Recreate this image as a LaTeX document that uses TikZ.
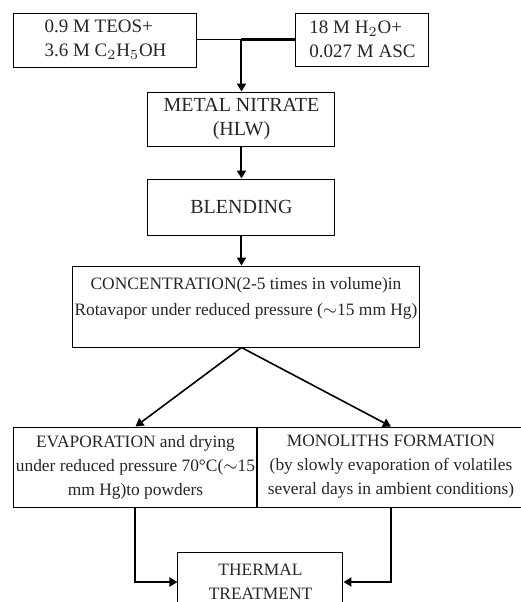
\documentclass[tikz,border=0pt]{standalone}
\usepackage{fontspec}
\setmainfont{Liberation Serif}
\usetikzlibrary{arrows.meta,positioning,calc}

\begin{document}
\begin{tikzpicture}[
  x=0.5pt, y=-0.5pt,
  box/.style={rectangle, draw, line width=0.5pt, inner sep=1pt, align=center, font=\fontsize{8.7}{12}\selectfont, text=black!85},
  bigtext/.style={font=\fontsize{10}{12}\selectfont},
  arr/.style={-{Triangle[length=4pt,width=4.5pt]}, line width=1pt},
  every node/.style={inner sep=2pt}
]
\useasboundingbox (0,0) rectangle (521,602);

% Top: reagents
\node[box, bigtext, font=\fontsize{9.5}{12}\selectfont, align=left, minimum width=91.5pt, minimum height=27pt] (teos) at (105.5,40) {0.9 M TEOS+\\3.6 M C$_2$H$_5$OH};
\node[box, font=\fontsize{9.5}{12}\selectfont, align=left, minimum width=66.5pt, minimum height=26.5pt] (water) at (362.5,39.5) {18 M H$_2$O+\\0.027 M ASC};
\coordinate (join) at (241.5,39.5);
\draw[line width=0.8pt] (teos.east |- join) -- (join);
\draw[line width=1.4pt] (water.west) -- (join);

% Main line
\node[box, bigtext, minimum width=93.5pt, minimum height=27pt] (nitrate) at (241.5,119) {METAL NITRATE\\(HLW)};
\node[box, bigtext, minimum width=93.5pt, minimum height=28pt] (blend) at (241.5,207) {BLENDING};
\node[box, minimum width=172pt, minimum height=40.5pt, font=\fontsize{8.7}{13}\selectfont] (conc) at (246,306.5) {CONCENTRATION(2-5 times in volume)in\\Rotavapor under reduced pressure ($\sim$15 mm Hg)\\[-3pt]\mbox{}};
\draw[arr] (join) -- (nitrate.north);
\draw[arr] (nitrate) -- (blend);
\draw[arr] (blend.south) -- (blend.south |- conc.north);

% Two branches
\node[box, minimum width=121.5pt, minimum height=40pt] (evap) at (135.5,467) {EVAPORATION and drying\\under reduced pressure 70°C($\sim$15\\mm Hg)to powders};
\node[box, minimum width=134pt, minimum height=40pt] (mono) at (391,467) {MONOLITHS FORMATION\\(by slowly evaporation of volatiles\\several days in ambient conditions)};
\draw[arr, line width=0.8pt] ($(conc.south)+(-4.5,0)$) -- (evap.north);
\draw[arr, line width=0.8pt] ($(conc.south)+(-4.5,0)$) -- (mono.north);

% Final step
\node[box, minimum width=82.5pt, minimum height=30pt] (thermal) at (260.5,582) {THERMAL\\TREATMENT};
\draw[arr] (evap.south) |- (thermal.west);
\draw[arr] (mono.south) |- (thermal.east);

\end{tikzpicture}
\end{document}
